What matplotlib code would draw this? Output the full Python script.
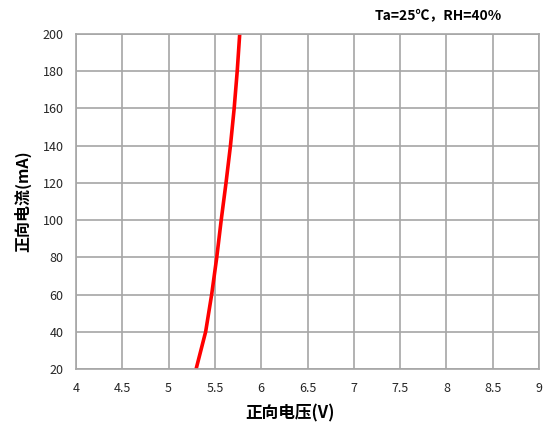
import numpy as np
import matplotlib
matplotlib.use("Agg")
import matplotlib.pyplot as plt

plt.rcParams['font.family'] = ['Noto Sans CJK SC', 'DejaVu Sans']

# forward voltage (V) vs forward current (mA)
voltage = [5.297, 5.40, 5.465, 5.52, 5.568, 5.62, 5.668, 5.708, 5.741, 5.768]
current = [20, 40, 60, 80, 100, 120, 140, 160, 180, 200]

xticks = [4, 4.5, 5, 5.5, 6, 6.5, 7, 7.5, 8, 8.5, 9]
xticklabels = ['4', '4.5', '5', '5.5', '6', '6.5', '7', '7.5', '8', '8.5', '9']
yticks = [20, 40, 60, 80, 100, 120, 140, 160, 180, 200]

fig = plt.figure(figsize=(5.5, 4.32), dpi=100)
ax = fig.add_axes([76/550, 1 - 369/432, (539-76)/550, (369-34)/432])

ax.plot(voltage, current, color='#ff0000', lw=2.6, solid_capstyle='butt',
        solid_joinstyle='round')

ax.set_xlim(4, 9)
ax.set_ylim(20, 200)
ax.set_xticks(xticks)
ax.set_xticklabels(xticklabels)
ax.set_yticks(yticks)
ax.grid(True, color='#a6a6a6', lw=1.2)
ax.set_axisbelow(True)
for s in ax.spines.values():
    s.set_color('#a6a6a6')
    s.set_linewidth(1.2)
ax.tick_params(length=0, labelsize=9, colors='#262626', pad=9)

ax.set_xlabel('正向电压(V)', fontsize=12, fontweight='bold')
ax.xaxis.set_label_coords((290 - 76) / 463, -0.105)
ax.set_ylabel('正向电流(mA)', fontsize=11.5, fontweight='bold', labelpad=8)

fig.text(502/550, 1 - 15/432, 'Ta=25℃，RH=40%', ha='right', va='center',
         fontsize=10, fontweight='bold')

fig.savefig('out.png', dpi=100)
